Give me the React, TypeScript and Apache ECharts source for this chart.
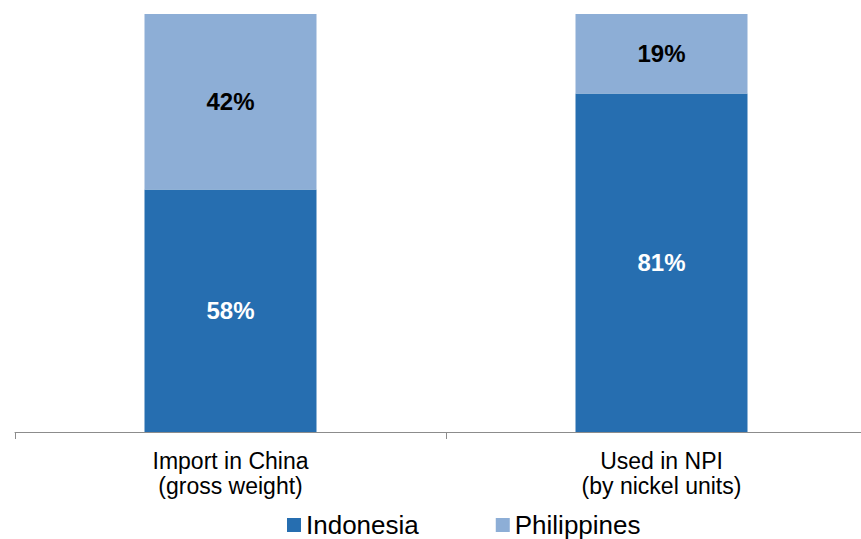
import React, { useEffect, useRef } from "react";
import * as echarts from "echarts";

const categories = ["Import in China\n(gross weight)", "Used in NPI\n(by nickel units)"];
const indonesia = [58, 81];
const philippines = [42, 19];
const seriesNames = ["Indonesia", "Philippines"];

export default function App() {
  const ref = useRef<HTMLDivElement>(null);
  useEffect(() => {
    if (!ref.current) return;
    const chart = echarts.init(ref.current, null, { renderer: "svg" });
    const font = "Arial, 'Liberation Sans', Helvetica, sans-serif";
    chart.setOption({
      animation: false,
      textStyle: { fontFamily: font },
      grid: { left: 15, top: 14, right: 0, height: 418, containLabel: false },
      legend: {
        left: 287,
        top: 512,
        padding: 0,
        itemWidth: 14,
        itemHeight: 14,
        itemGap: 77,
        icon: "rect",
        textStyle: { fontSize: 26, lineHeight: 26, color: "#000", fontFamily: font },
        data: seriesNames,
      },
      xAxis: {
        type: "category",
        data: categories,
        axisLine: { lineStyle: { color: "#8c8c8c", width: 1 } },
        axisTick: { show: true, length: 7, lineStyle: { color: "#8c8c8c" } },
        axisLabel: {
          color: "#000",
          fontSize: 23,
          lineHeight: 25,
          margin: 16,
          fontFamily: font,
        },
      },
      yAxis: {
        type: "value",
        min: 0,
        max: 100,
        show: false,
        splitLine: { show: false },
      },
      series: [
        {
          name: seriesNames[0],
          type: "bar",
          stack: "total",
          data: indonesia,
          barWidth: 172,
          itemStyle: { color: "#266EB0" },
          label: {
            show: true,
            position: "inside",
            formatter: "{c}%",
            color: "#fff",
            fontSize: 24,
            fontWeight: "bold",
            fontFamily: font,
          },
        },
        {
          name: seriesNames[1],
          type: "bar",
          stack: "total",
          data: philippines,
          barWidth: 172,
          itemStyle: { color: "#8DAED6" },
          label: {
            show: true,
            position: "inside",
            formatter: "{c}%",
            color: "#000",
            fontSize: 24,
            fontWeight: "bold",
            fontFamily: font,
          },
        },
      ],
    });
    return () => chart.dispose();
  }, []);
  return (
    <div style={{ position: "absolute", left: 0, top: 0, width: 861, height: 539, overflow: "hidden" }}>
      <div ref={ref} style={{ width: 877, height: 539 }} />
    </div>
  );
}
